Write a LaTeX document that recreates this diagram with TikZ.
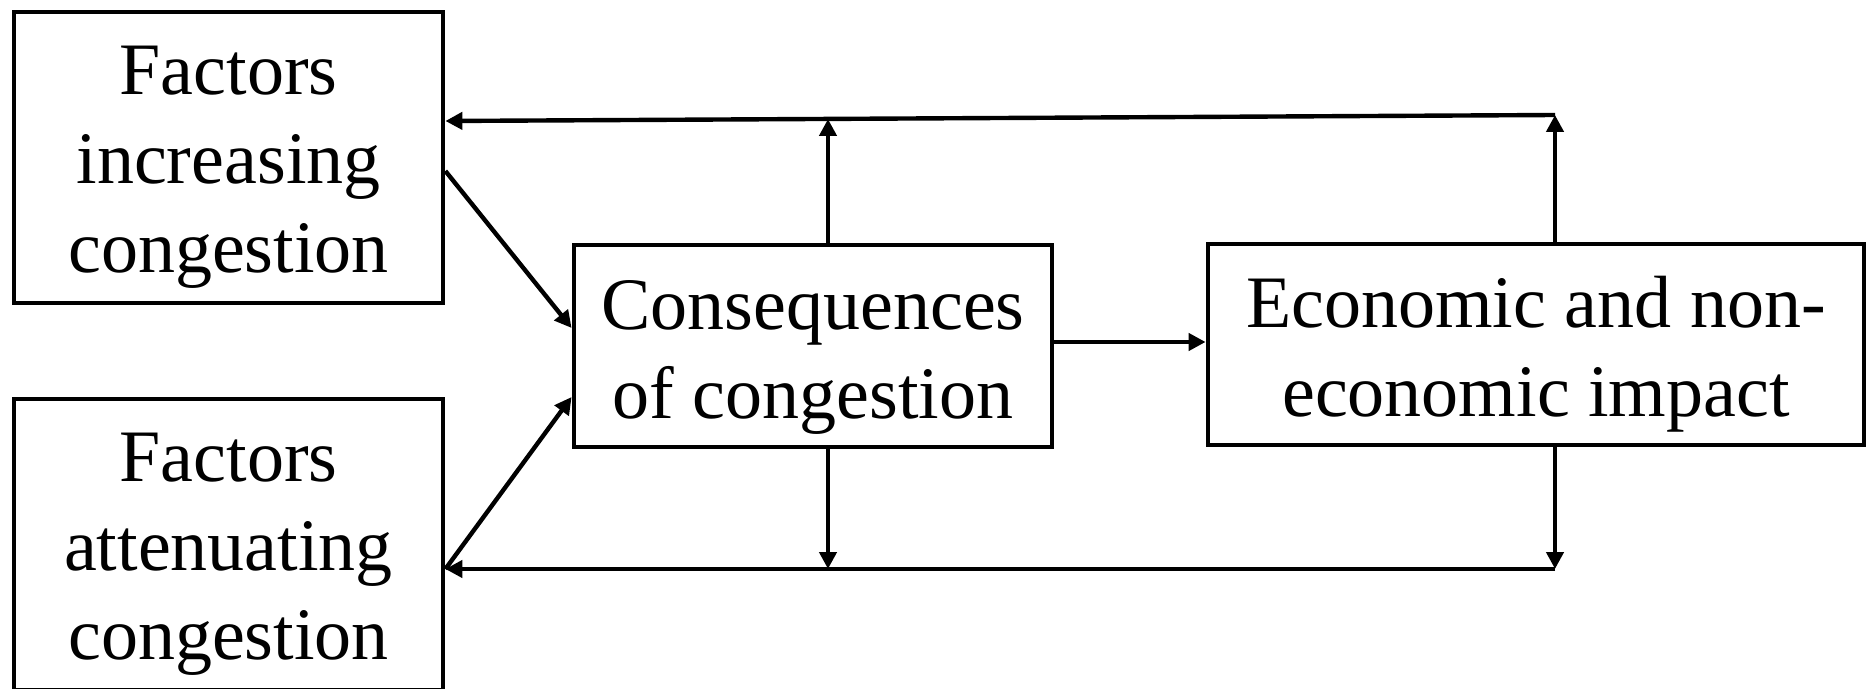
\documentclass[tikz,border=0pt]{standalone}
\usepackage{fontspec}
\setmainfont{Liberation Serif}
\usetikzlibrary{arrows.meta}

\begin{document}
\begin{tikzpicture}[
  x=0.5pt, y=-0.5pt,
  box/.style={draw, line width=2.4pt, inner sep=0pt, fill=white},
  txt/.style={align=center, inner sep=0pt,
    font=\fontsize{37}{44.5}\selectfont},
  conn/.style={line width=2.2pt},
  arr/.style={conn, -{Triangle[length=8.5pt,width=8.5pt]}},
]
\useasboundingbox (0,0) rectangle (1869,689);

% boxes
\node[box, minimum width=214.5pt, minimum height=145.5pt] (f1) at (228.5,157.5) {};
\node[box, minimum width=214.5pt, minimum height=145.5pt] (f2) at (228.5,544.5) {};
\node[box, minimum width=239pt, minimum height=101pt] (c) at (813,346) {};
\node[box, minimum width=328pt, minimum height=100.5pt] (e) at (1536,344.5) {};

% box texts
\node[txt, yshift=-5pt] (f1t) at (f1.center) {Factors\\increasing\\congestion};
\node[txt, yshift=-5pt] (f2t) at (f2.center) {Factors\\attenuating\\congestion};
\node[txt, yshift=-5.5pt] (ct) at (c.center) {Consequences\\of congestion};
\node[txt, yshift=-5pt] (et) at (e.center) {Economic and non-\\economic impact};

% junction points of the feedback loops
\coordinate (topR) at (1555,115);
\coordinate (topM) at (828,119);
\coordinate (topL) at (445,121);
\coordinate (botR) at (1555,569);
\coordinate (botM) at (828,569);
\coordinate (botL) at (445,569);
\coordinate (in1) at (445,171);
\coordinate (to1) at (572,328);
\coordinate (to2) at (572,397);
\coordinate (mid) at (0,342);

% factors into consequences
\draw[arr] (f1.east |- in1) -- (c.west |- to1);
\draw[arr] (f2.east |- botL) -- (c.west |- to2);

% consequences into impact
\draw[arr] (c.east |- mid) -- (e.west |- mid);

% upper feedback loop
\draw[arr] (e.north -| topR) -- (topR);
\draw[arr] (topR) -- (f1.east |- topL);
\draw[arr] (c.north -| topM) -- (topM);

% lower feedback loop
\draw[arr] (e.south -| botR) -- (botR);
\draw[arr] (botR) -- (f2.east |- botL);
\draw[arr] (c.south -| botM) -- (botM);
\end{tikzpicture}
\end{document}
